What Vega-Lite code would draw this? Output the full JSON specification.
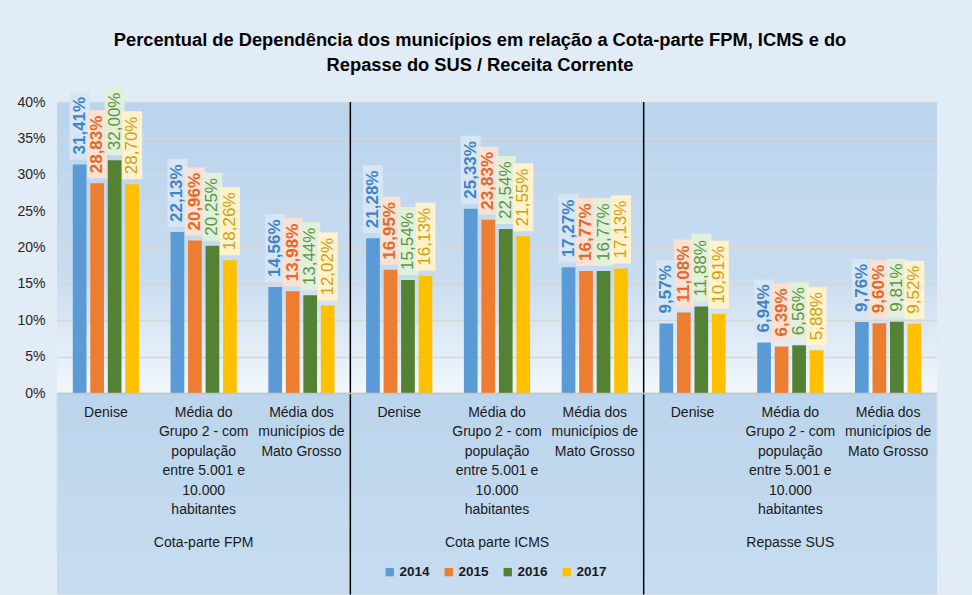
{
  "$schema": "https://vega.github.io/schema/vega-lite/v6.json",
  "width": 880,
  "height": 291,
  "autosize": {"type": "none"},
  "padding": {"left": 57, "top": 102, "right": 35, "bottom": 202},
  "background": "#e1ecf7",
  "config": {
    "locale": {"number": {"decimal": ",", "thousands": ".", "grouping": [3], "currency": ["R$", ""]}},
    "view": {"stroke": null, "fill": {"gradient": "linear", "x1": 0, "y1": 0, "x2": 0, "y2": 1, "stops": [{"offset": 0, "color": "#b9d4ed"}, {"offset": 0.6, "color": "#c8dcf0"}, {"offset": 1, "color": "#f2f7fc"}]}},
    "font": "Liberation Sans",
    "axisY": {
      "title": null, "format": ".0%", "values": [0, 0.05, 0.1, 0.15, 0.2, 0.25, 0.3, 0.35, 0.4],
      "labelFont": "Liberation Sans", "labelFontSize": 14, "labelColor": "#262626", "labelPadding": 12,
      "ticks": false, "domain": false, "grid": true, "gridColor": "#d6d6d6", "gridWidth": 1.3, "labelOverlap": false
    }
  },
  "title": {
    "text": ["Percentual de Dependência dos municípios em relação a Cota-parte FPM, ICMS e do", "Repasse do SUS / Receita Corrente"],
    "font": "Liberation Sans",
    "fontSize": 18.3,
    "fontWeight": "bold",
    "color": "#000000",
    "lineHeight": 25,
    "anchor": "middle",
    "dx": -17,
    "offset": 12
  },
  "data": {"values": [
      {"group": "Cota-parte FPM", "cat": "F~Denise", "year": "2014", "value": 0.3141},
      {"group": "Cota-parte FPM", "cat": "F~Denise", "year": "2015", "value": 0.2883},
      {"group": "Cota-parte FPM", "cat": "F~Denise", "year": "2016", "value": 0.3200},
      {"group": "Cota-parte FPM", "cat": "F~Denise", "year": "2017", "value": 0.2870},
      {"group": "Cota-parte FPM", "cat": "F~Média do~Grupo 2 - com~população~entre 5.001 e~10.000~habitantes", "year": "2014", "value": 0.2213},
      {"group": "Cota-parte FPM", "cat": "F~Média do~Grupo 2 - com~população~entre 5.001 e~10.000~habitantes", "year": "2015", "value": 0.2096},
      {"group": "Cota-parte FPM", "cat": "F~Média do~Grupo 2 - com~população~entre 5.001 e~10.000~habitantes", "year": "2016", "value": 0.2025},
      {"group": "Cota-parte FPM", "cat": "F~Média do~Grupo 2 - com~população~entre 5.001 e~10.000~habitantes", "year": "2017", "value": 0.1826},
      {"group": "Cota-parte FPM", "cat": "F~Média dos~municípios de~Mato Grosso", "year": "2014", "value": 0.1456},
      {"group": "Cota-parte FPM", "cat": "F~Média dos~municípios de~Mato Grosso", "year": "2015", "value": 0.1398},
      {"group": "Cota-parte FPM", "cat": "F~Média dos~municípios de~Mato Grosso", "year": "2016", "value": 0.1344},
      {"group": "Cota-parte FPM", "cat": "F~Média dos~municípios de~Mato Grosso", "year": "2017", "value": 0.1202},
      {"group": "Cota parte ICMS", "cat": "I~Denise", "year": "2014", "value": 0.2128},
      {"group": "Cota parte ICMS", "cat": "I~Denise", "year": "2015", "value": 0.1695},
      {"group": "Cota parte ICMS", "cat": "I~Denise", "year": "2016", "value": 0.1554},
      {"group": "Cota parte ICMS", "cat": "I~Denise", "year": "2017", "value": 0.1613},
      {"group": "Cota parte ICMS", "cat": "I~Média do~Grupo 2 - com~população~entre 5.001 e~10.000~habitantes", "year": "2014", "value": 0.2533},
      {"group": "Cota parte ICMS", "cat": "I~Média do~Grupo 2 - com~população~entre 5.001 e~10.000~habitantes", "year": "2015", "value": 0.2383},
      {"group": "Cota parte ICMS", "cat": "I~Média do~Grupo 2 - com~população~entre 5.001 e~10.000~habitantes", "year": "2016", "value": 0.2254},
      {"group": "Cota parte ICMS", "cat": "I~Média do~Grupo 2 - com~população~entre 5.001 e~10.000~habitantes", "year": "2017", "value": 0.2155},
      {"group": "Cota parte ICMS", "cat": "I~Média dos~municípios de~Mato Grosso", "year": "2014", "value": 0.1727},
      {"group": "Cota parte ICMS", "cat": "I~Média dos~municípios de~Mato Grosso", "year": "2015", "value": 0.1677},
      {"group": "Cota parte ICMS", "cat": "I~Média dos~municípios de~Mato Grosso", "year": "2016", "value": 0.1677},
      {"group": "Cota parte ICMS", "cat": "I~Média dos~municípios de~Mato Grosso", "year": "2017", "value": 0.1713},
      {"group": "Repasse SUS", "cat": "S~Denise", "year": "2014", "value": 0.0957},
      {"group": "Repasse SUS", "cat": "S~Denise", "year": "2015", "value": 0.1108},
      {"group": "Repasse SUS", "cat": "S~Denise", "year": "2016", "value": 0.1188},
      {"group": "Repasse SUS", "cat": "S~Denise", "year": "2017", "value": 0.1091},
      {"group": "Repasse SUS", "cat": "S~Média do~Grupo 2 - com~população~entre 5.001 e~10.000~habitantes", "year": "2014", "value": 0.0694},
      {"group": "Repasse SUS", "cat": "S~Média do~Grupo 2 - com~população~entre 5.001 e~10.000~habitantes", "year": "2015", "value": 0.0639},
      {"group": "Repasse SUS", "cat": "S~Média do~Grupo 2 - com~população~entre 5.001 e~10.000~habitantes", "year": "2016", "value": 0.0656},
      {"group": "Repasse SUS", "cat": "S~Média do~Grupo 2 - com~população~entre 5.001 e~10.000~habitantes", "year": "2017", "value": 0.0588},
      {"group": "Repasse SUS", "cat": "S~Média dos~municípios de~Mato Grosso", "year": "2014", "value": 0.0976},
      {"group": "Repasse SUS", "cat": "S~Média dos~municípios de~Mato Grosso", "year": "2015", "value": 0.0960},
      {"group": "Repasse SUS", "cat": "S~Média dos~municípios de~Mato Grosso", "year": "2016", "value": 0.0981},
      {"group": "Repasse SUS", "cat": "S~Média dos~municípios de~Mato Grosso", "year": "2017", "value": 0.0952}
  ]},
  "layer": [
    {
      "transform": [{"filter": "datum.cat == 'F~Denise' && datum.year == '2014'"}],
      "mark": {"type": "rect", "color": {"gradient": "linear", "x1": 0, "y1": 0, "x2": 0, "y2": 1, "stops": [{"offset": 0, "color": "#bbd5ec"}, {"offset": 1, "color": "#c7dcf0"}]}},
      "encoding": {
        "y": {"datum": 0, "type": "quantitative", "scale": {"domain": [0, 0.4], "nice": false}, "axis": {"title": null}},
        "y2": {"datum": -0.277}
      }
    },
    {
      "mark": {"type": "bar"},
      "encoding": {
        "x": {
          "field": "cat", "type": "nominal", "sort": null,
          "scale": {"paddingInner": 0.323, "paddingOuter": 0.1615},
          "axis": {
            "title": null, "orient": "bottom", "zindex": 1,
            "labelExpr": "slice(split(datum.value, '~'), 1)",
            "labelAngle": 0, "labelAlign": "center", "labelBaseline": "top",
            "labelFont": "Liberation Sans", "labelFontSize": 14, "labelColor": "#1a1a1a",
            "labelLineHeight": 19.5, "labelPadding": 12, "labelLimit": 200, "labelOverlap": false,
            "ticks": false, "domain": true, "domainColor": "#c4c4c4", "domainWidth": 1.5, "grid": false
          }
        },
        "xOffset": {"field": "year", "type": "nominal", "scale": {"paddingInner": 0.217, "paddingOuter": 0}},
        "y": {"field": "value", "type": "quantitative", "scale": {"domain": [0, 0.4], "nice": false}, "axis": {"title": null}},
        "color": {
          "field": "year", "type": "nominal",
          "scale": {"domain": ["2014", "2015", "2016", "2017"], "range": ["#5b9bd5", "#ed7d31", "#548235", "#ffc000"]},
          "legend": {
            "orient": "none", "legendX": 326, "legendY": 463, "direction": "horizontal", "title": null,
            "symbolType": "square", "symbolSize": 70, "symbolStrokeWidth": 0, "padding": 0,
            "labelFont": "Liberation Sans", "labelFontSize": 13.5, "labelFontWeight": "bold", "labelColor": "#1a1a1a",
            "columnPadding": 12, "labelOffset": 3
          }
        }
      }
    },
    {
      "transform": [{"filter": "datum.value >= 0.1"}],
      "mark": {"type": "bar", "width": 20, "yOffset": -5, "y2Offset": -73},
      "encoding": {
        "x": {"field": "cat", "type": "nominal", "sort": null, "axis": null},
        "xOffset": {"field": "year", "type": "nominal"},
        "y": {"field": "value", "type": "quantitative", "axis": {"title": null}},
        "y2": {"field": "value"},
        "color": {"condition": [{"test": "datum.year == '2014'", "value": "#d7e6f5"}, {"test": "datum.year == '2015'", "value": "#fbe1d3"}, {"test": "datum.year == '2016'", "value": "#e2efda"}], "value": "#fff2cc"}
      }
    },
    {
      "transform": [{"filter": "datum.value < 0.1"}],
      "mark": {"type": "bar", "width": 20, "yOffset": -5, "y2Offset": -63},
      "encoding": {
        "x": {"field": "cat", "type": "nominal", "sort": null, "axis": null},
        "xOffset": {"field": "year", "type": "nominal"},
        "y": {"field": "value", "type": "quantitative", "axis": {"title": null}},
        "y2": {"field": "value"},
        "color": {"condition": [{"test": "datum.year == '2014'", "value": "#d7e6f5"}, {"test": "datum.year == '2015'", "value": "#fbe1d3"}, {"test": "datum.year == '2016'", "value": "#e2efda"}], "value": "#fff2cc"}
      }
    },
    {
      "transform": [{"filter": "datum.year == '2014' || datum.year == '2015'"}],
      "mark": {"type": "text", "angle": 270, "align": "left", "baseline": "middle", "dx": 10, "font": "Liberation Sans", "fontSize": 17, "fontWeight": "bold"},
      "encoding": {
        "x": {"field": "cat", "type": "nominal", "sort": null, "axis": null},
        "xOffset": {"field": "year", "type": "nominal"},
        "y": {"field": "value", "type": "quantitative", "axis": {"title": null}},
        "text": {"field": "value", "type": "quantitative", "format": ".2%"},
        "color": {"condition": [{"test": "datum.year == '2014'", "value": "#3f84c6"}], "value": "#df6a2b"}
      }
    },
    {
      "transform": [{"filter": "datum.year == '2016' || datum.year == '2017'"}],
      "mark": {"type": "text", "angle": 270, "align": "left", "baseline": "middle", "dx": 10, "font": "Liberation Sans", "fontSize": 17, "fontWeight": "normal"},
      "encoding": {
        "x": {"field": "cat", "type": "nominal", "sort": null, "axis": null},
        "xOffset": {"field": "year", "type": "nominal"},
        "y": {"field": "value", "type": "quantitative", "axis": {"title": null}},
        "text": {"field": "value", "type": "quantitative", "format": ".2%"},
        "color": {"condition": [{"test": "datum.year == '2016'", "value": "#5d953f"}], "value": "#d09f0c"}
      }
    },
    {
      "transform": [{"filter": "datum.year == '2014' && (datum.cat == 'I~Denise' || datum.cat == 'S~Denise')"}],
      "mark": {"type": "rule", "color": "#000000", "strokeWidth": 1.5},
      "encoding": {
        "x": {
          "field": "cat", "type": "nominal", "sort": null, "bandPosition": -0.2385,
          "axis": {
            "title": null, "orient": "bottom", "zindex": 1,
            "labelExpr": "indexof(datum.value, 'Média do~') == 2 ? (slice(datum.value, 0, 1) == 'F' ? 'Cota-parte FPM' : (slice(datum.value, 0, 1) == 'I' ? 'Cota parte ICMS' : 'Repasse SUS')) : ''",
            "labelAngle": 0, "labelAlign": "center", "labelBaseline": "top",
            "labelFont": "Liberation Sans", "labelFontSize": 14, "labelColor": "#1a1a1a",
            "labelPadding": 142, "labelLimit": 300, "labelOverlap": false,
            "ticks": false, "domain": false, "grid": false
          }
        },
        "y": {"datum": 0.4, "type": "quantitative", "axis": {"title": null}},
        "y2": {"datum": -0.277}
      }
    },
    {
      "transform": [{"filter": "datum.year == '2014' && datum.cat == 'F~Denise'"}],
      "mark": {"type": "rule", "color": "#d3dfec", "strokeWidth": 1.5},
      "encoding": {
        "x": {"field": "cat", "type": "nominal", "sort": null, "bandPosition": -0.2385, "axis": null},
        "y": {"datum": 0, "type": "quantitative", "axis": {"title": null}},
        "y2": {"datum": -0.22}
      }
    },
    {
      "transform": [{"filter": "datum.year == '2014' && datum.cat == 'S~Média dos~municípios de~Mato Grosso'"}],
      "mark": {"type": "rule", "color": "#d3dfec", "strokeWidth": 1.5},
      "encoding": {
        "x": {"field": "cat", "type": "nominal", "sort": null, "bandPosition": 1.2385, "axis": null},
        "y": {"datum": 0, "type": "quantitative", "axis": {"title": null}},
        "y2": {"datum": -0.22}
      }
    }
  ],
  "resolve": {"axis": {"x": "independent"}}
}
